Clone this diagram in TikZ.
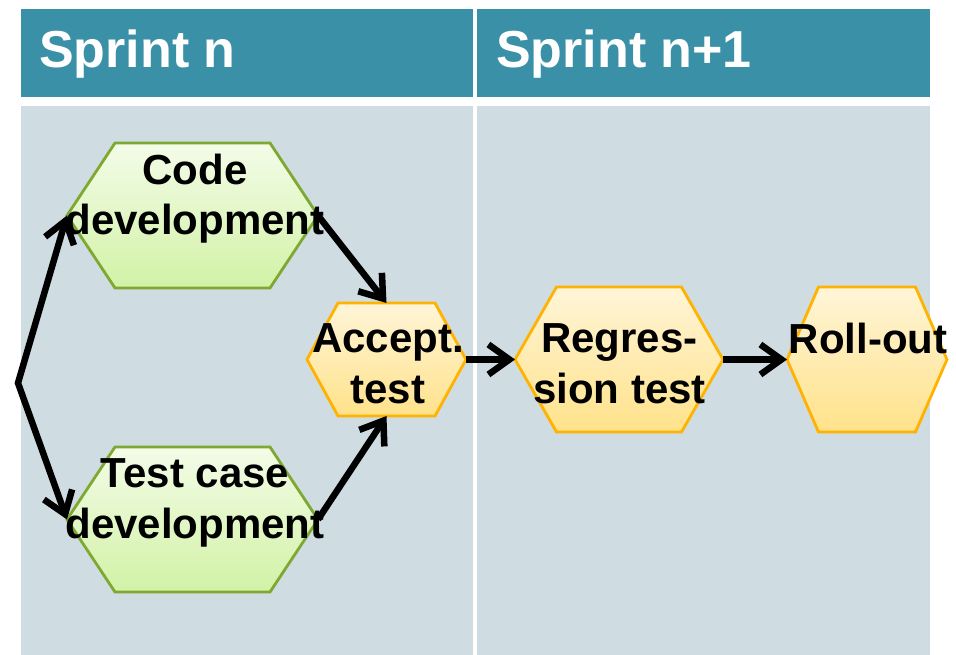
\documentclass[tikz,border=0pt]{standalone}
\usepackage{fontspec}
\setmainfont{Liberation Sans}
\usetikzlibrary{arrows.meta}

\definecolor{hdr}{HTML}{3A90A6}
\definecolor{lane}{HTML}{CFDCE2}
\definecolor{grnedge}{HTML}{7EA832}
\definecolor{grntop}{HTML}{F3FCE8}
\definecolor{grnbot}{HTML}{D2F2A6}
\definecolor{orgedge}{HTML}{FFB300}
\definecolor{orgtop}{HTML}{FFF5D8}
\definecolor{orgbot}{HTML}{FFE28A}

\tikzset{
  header/.style={fill=hdr},
  lanebg/.style={fill=lane},
  greenhex/.style={draw=grnedge, line width=2.8pt, top color=grntop, bottom color=grnbot},
  orangehex/.style={draw=orgedge, line width=2.8pt, top color=orgtop, bottom color=orgbot},
  tasklabel/.style={font=\fontsize{42}{51}\selectfont\bfseries, align=center, inner sep=0pt, anchor=base},
  sprinttitle/.style={font=\fontsize{52}{60}\selectfont\bfseries, text=white, inner sep=0pt, anchor=base west},
  barb/.tip={Straight Barb[length=21pt,width=30pt]},
  flow/.style={line width=6.5pt, -barb}
}

% \hexat{name}{cx}{cy}{half width}{half top edge}{half height}{style}
\newcommand{\hexat}[7]{%
  \begin{scope}[shift={(#2,#3)}]
    \path[#7] (-#4,0) -- (-#5,-#6) -- (#5,-#6) -- (#4,0) -- (#5,#6) -- (-#5,#6) -- cycle;
    \coordinate (#1-l) at (-#4,0);
    \coordinate (#1-r) at (#4,0);
    \coordinate (#1-t) at (0,-#6);
    \coordinate (#1-b) at (0,#6);
  \end{scope}}

\begin{document}
\begin{tikzpicture}[x=1pt,y=-1pt]
  \useasboundingbox (0,0) rectangle (956,655);

  % sprint columns
  \path[header] (21,9) rectangle (473,97.5);
  \path[header] (477,9) rectangle (930,97.5);
  \path[lanebg] (21,106.5) rectangle (473,655);
  \path[lanebg] (477,106.5) rectangle (930,655);
  \node[sprinttitle] (s1) at (39,68) {Sprint n};
  \node[sprinttitle] (s2) at (496,68) {Sprint n+1};

  % activities
  \hexat{cd}{192.5}{215.5}{125.5}{77.5}{72.5}{greenhex}
  \hexat{tc}{192.5}{519.5}{125.5}{77.5}{72.5}{greenhex}
  \hexat{at}{386.5}{359.5}{79.5}{48.5}{56.5}{orangehex}
  \hexat{rt}{619}{359.5}{104}{62.5}{72.5}{orangehex}
  \hexat{ro}{867}{359.5}{80}{48.5}{72.5}{orangehex}

  % labels (anchored on the baseline of the last line)
  \node[tasklabel] (cdt) at (195,235) {Code\\development};
  \node[tasklabel] (tct) at (195,538) {Test case\\development};
  \node[tasklabel] (att) at (388,403) {Accept.\\test};
  \node[tasklabel] (rtt) at (619.5,403) {Regres-\\sion test};
  \node[tasklabel] (rot) at (868,353) {Roll-out};

  % flow
  \coordinate (src) at (18,383);
  \draw[line width=6.5pt, barb-barb] (cd-l) -- (src) -- (tc-l);
  \draw[flow] (cd-r) -- (at-t);
  \draw[flow] (tc-r) -- (at-b);
  \draw[flow] (at-r) -- (rt-l);
  \draw[flow] (rt-r) -- (ro-l);
\end{tikzpicture}
\end{document}
